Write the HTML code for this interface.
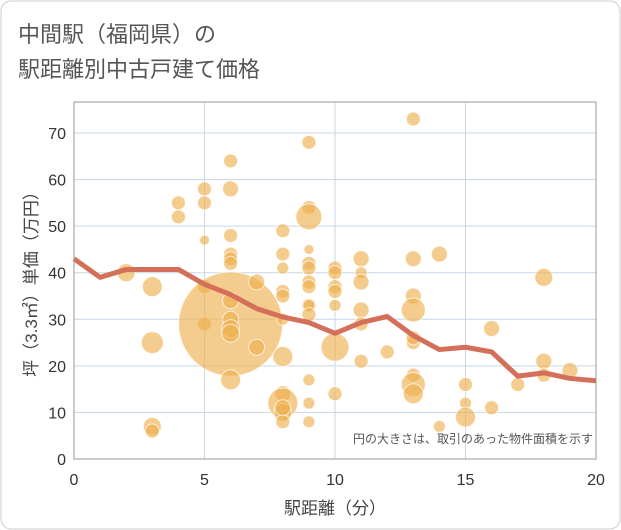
<!DOCTYPE html>
<html><head><meta charset="utf-8"><style>
body{margin:0;background:#fff;}
svg{display:block;font-family:"Liberation Sans","Noto Sans CJK JP",sans-serif;}
</style></head><body>
<svg id="c" width="621" height="530">
<rect x="1" y="1" width="619" height="528" rx="10" fill="#fff" stroke="#ccc"/>
<text x="18" y="42" font-size="22" fill="#555">中間駅（福岡県）の</text>
<text x="18" y="77" font-size="22" fill="#555">駅距離別中古戸建て価格</text>
<g id="grid"></g>
<g id="bubbles"></g>
<g id="line"></g>
<rect x="74" y="102" width="522" height="357" fill="none" stroke="#999"/>
<text x="593" y="443" font-size="12" fill="#555" text-anchor="end">円の大きさは、取引のあった物件面積を示す</text>
<text x="335" y="514" font-size="17" fill="#444" text-anchor="middle">駅距離（分）</text>
<text transform="translate(37,280) rotate(-90)" font-size="17" fill="#444" text-anchor="middle">坪（3.3㎡）単価（万円）</text>
</svg>
<script>
const xTicks=[0,5,10,15,20];
const yTicks=[0,10,20,30,40,50,60,70];
const bx=[2,3,3,3,3,4,4,5,5,5,5,5,6,6,6,6,6,6,6,6,6,6,6,6,7,7,8,8,8,8,8,8,8,8,8,8,8,8,9,9,9,9,9,9,9,9,9,9,9,9,9,9,10,10,10,10,10,10,10,11,11,11,11,11,11,12,13,13,13,13,13,13,13,13,13,14,14,15,15,15,16,16,17,18,18,18,19];
const by=[40,37,25,7,6,55,52,58,55,47,37,29,64,58,48,44,43,42,29,34,30,28,27,17,38,24,49,44,41,36,35,30,22,14,12,10,8,11,68,54,52,45,42,41,38,37,33,33,31,17,12,8,41,40,37,36,33,24,14,43,40,38,32,29,21,23,73,43,35,32,25,26,18,16,14,44,7,16,12,9,28,11,16,39,21,18,19];
const bs=[9,10,11,9,7,7,7,7,7,5,7,7,7,8,7,7,7,7,52,8,8,9,9,10,8,8,7,7,6,7,7,6,10,8,15,9,7,8,7,7,13,5,7,7,7,7,7,6,7,6,6,6,7,7,7,7,6,14,7,8,6,8,8,7,7,7,7,8,8,12,7,7,7,12,10,8,6,7,6,10,8,7,7,9,8,7,8];
const lx=[0,1,2,3,4,5,6,7,8,9,10,11,12,13,14,15,16,17,18,19,20];
const ly=[43,39,40.7,40.7,40.7,37.5,35.3,32.3,30.5,29.3,27,29.3,30.6,26.5,23.5,24,23,17.8,18.5,17.3,16.8];
const X=v=>74+v*26.1, Y=v=>459-v*(326/70);
const NS="http://www.w3.org/2000/svg";
const g=document.getElementById('grid');
xTicks.forEach(t=>{
 const l=document.createElementNS(NS,'line');l.setAttribute('x1',X(t));l.setAttribute('x2',X(t));l.setAttribute('y1',102);l.setAttribute('y2',459);l.setAttribute('stroke','#c8d6e5');
 
 g.appendChild(l);
 const tx=document.createElementNS(NS,'text');tx.setAttribute('x',X(t));tx.setAttribute('y',485);tx.setAttribute('text-anchor','middle');tx.setAttribute('font-size','16');tx.setAttribute('fill','#333');tx.textContent=t;
 
 g.appendChild(tx);
});
yTicks.forEach(t=>{
 const l=document.createElementNS(NS,'line');l.setAttribute('x1',74);l.setAttribute('x2',596);l.setAttribute('y1',Y(t));l.setAttribute('y2',Y(t));l.setAttribute('stroke','#c8d6e5');
 
 g.appendChild(l);
 const tx=document.createElementNS(NS,'text');tx.setAttribute('x',66);tx.setAttribute('y',Y(t)+6);tx.setAttribute('text-anchor','end');tx.setAttribute('font-size','16');tx.setAttribute('fill','#333');tx.textContent=t;
 
 g.appendChild(tx);
});
const bg=document.getElementById('bubbles');
bx.forEach((v,i)=>{
 const c=document.createElementNS(NS,'circle');c.setAttribute('cx',X(v));c.setAttribute('cy',Y(by[i]));c.setAttribute('r',bs[i]);
 c.setAttribute('fill','rgba(238,176,80,0.65)');c.setAttribute('stroke','rgba(255,255,255,0.7)');
 
 bg.appendChild(c);
});
const p=document.createElementNS(NS,'polyline');
p.setAttribute('points',lx.map((v,i)=>X(v)+','+Y(ly[i])).join(' '));
p.setAttribute('fill','none');p.setAttribute('stroke','#d4705a');p.setAttribute('stroke-width','5');p.setAttribute('stroke-linejoin','round');


document.getElementById('line').appendChild(p);
</script>
</body></html>
